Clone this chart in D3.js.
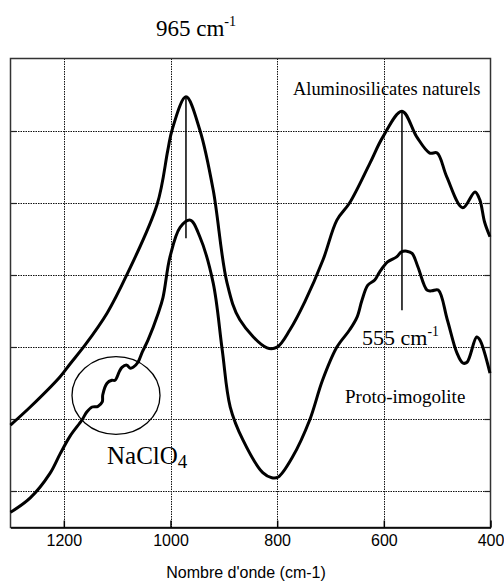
<!DOCTYPE html>
<html><head><meta charset="utf-8">
<script src="https://cdn.jsdelivr.net/npm/d3@7"></script>
<style>body{margin:0;background:#fff}svg{display:block}</style>
</head><body><svg id="c" width="504" height="581"></svg>
<script>
// Data: wavenumber (cm-1) and absorbance (arbitrary units, offset)
const alumWave = [1300,1263,1207,1188,1160,1119,1082,1025,1005,997,971,945,920,894,870,819,800,776,748,714,688,664,626,602,566,538,514,500,482,452,429,420,411,401];
const alumAbs  = [1.42,1.67,2.09,2.27,2.53,2.97,3.50,4.48,5.23,5.51,5.97,5.51,4.68,3.39,2.88,2.49,2.50,2.74,3.13,3.71,4.26,4.50,5.05,5.41,5.77,5.41,5.19,5.19,4.86,4.43,4.65,4.54,4.23,4.03];
const protoWave = [1300,1263,1226,1207,1188,1166,1157,1147,1136,1128,1127,1119,1110,1104,1096,1091,1082,1076,1070,1061,1053,1042,1023,1014,1001,982,963,945,920,903,888,864,827,810,798,771,739,715,688,664,650,641,630,617,608,593,576,567,557,547,536,519,510,498,481,463,452,444,426,420,401];
const protoAbs  = [0.21,0.41,0.75,1.02,1.27,1.49,1.60,1.67,1.68,1.74,1.84,2.00,2.04,2.04,2.16,2.22,2.25,2.21,2.22,2.29,2.43,2.60,2.97,3.19,3.75,4.16,4.26,4.03,3.39,2.46,1.67,1.21,0.76,0.69,0.70,0.98,1.49,2.04,2.50,2.74,2.92,3.15,3.36,3.43,3.54,3.68,3.75,3.82,3.83,3.80,3.61,3.29,3.28,3.29,2.88,2.42,2.28,2.29,2.64,2.60,2.14];
const xTicks = [1200,1000,800,600,400];
const yGrid = [0.5,1.5,2.5,3.5,4.5,5.5];
const markerWave = [971,566];
const markerTop = [5.97,5.77];
const markerBottom = [4.01,3.01];
const xDomain = [1300,400];
const yDomain = [0,6.5];

const svg = d3.select("#c");
const L=10.5, R=490.5, T=58.5, B=527.5;
const x = d3.scaleLinear().domain(xDomain).range([L,R]);
const y = d3.scaleLinear().domain(yDomain).range([B,T]);

// gridlines
const g = svg.append("g");
g.selectAll(".vg").data(xTicks.filter(d=>d!==400)).enter().append("line")
 .attr("x1",d=>Math.round(x(d))+0.5).attr("x2",d=>Math.round(x(d))+0.5).attr("y1",T).attr("y2",B)
 .attr("stroke","#111").attr("stroke-width",1).attr("stroke-dasharray","1.5,1");
g.selectAll(".hg").data(yGrid).enter().append("line")
 .attr("x1",L).attr("x2",R).attr("y1",d=>Math.round(y(d))+0.5).attr("y2",d=>Math.round(y(d))+0.5)
 .attr("stroke","#111").attr("stroke-width",1).attr("stroke-dasharray","1.5,1");

// inward ticks on left and right
g.selectAll(".lt").data(yGrid).enter().append("line")
 .attr("x1",L).attr("x2",L+6).attr("y1",d=>Math.round(y(d))+0.5).attr("y2",d=>Math.round(y(d))+0.5)
 .attr("stroke","#222").attr("stroke-width",1.2);
g.selectAll(".rt").data(yGrid).enter().append("line")
 .attr("x1",R-6).attr("x2",R).attr("y1",d=>Math.round(y(d))+0.5).attr("y2",d=>Math.round(y(d))+0.5)
 .attr("stroke","#222").attr("stroke-width",1.2);

// frame
svg.append("rect").attr("x",L).attr("y",T).attr("width",R-L).attr("height",B-T)
 .attr("fill","none").attr("stroke","#333").attr("stroke-width",1.5);

// bottom axis
const xAxis = d3.axisBottom(x).tickValues(xTicks).tickFormat(d3.format("d")).tickSizeInner(-7).tickSizeOuter(0).tickPadding(7);
const ax = svg.append("g").attr("transform",`translate(0,${B})`).call(xAxis);
ax.select(".domain").attr("stroke","#000").attr("stroke-width",1.5);
ax.selectAll(".tick line").attr("stroke","#000").attr("stroke-width",1.5);
ax.selectAll("text").attr("font-family","Liberation Sans, Arial, sans-serif").attr("font-size",16).attr("fill","#000");

svg.append("text").attr("x",246).attr("y",578).attr("text-anchor","middle")
 .attr("font-family","Liberation Sans, Arial, sans-serif").attr("font-size",16).text("Nombre d'onde (cm-1)");

// curves
const line = d3.line().x(d=>x(d[0])).y(d=>y(d[1])).curve(d3.curveCatmullRom.alpha(0.5));
svg.append("path").datum(d3.zip(alumWave,alumAbs)).attr("d",line)
 .attr("fill","none").attr("stroke","#000").attr("stroke-width",3).attr("stroke-linejoin","round");
svg.append("path").datum(d3.zip(protoWave,protoAbs)).attr("d",line)
 .attr("fill","none").attr("stroke","#000").attr("stroke-width",3).attr("stroke-linejoin","round");

// marker lines
svg.selectAll(".mk").data(markerWave).enter().append("line")
 .attr("x1",d=>x(d)).attr("x2",d=>x(d)).attr("y1",(d,i)=>y(markerTop[i])).attr("y2",(d,i)=>y(markerBottom[i]))
 .attr("stroke","#000").attr("stroke-width",1.5);

// ellipse
svg.append("ellipse").attr("cx",116).attr("cy",395.5).attr("rx",44).attr("ry",38.8)
 .attr("fill","none").attr("stroke","#000").attr("stroke-width",1.3);

const serif = "Liberation Serif, Times New Roman, serif";
function sup(xp, yp, base, s, fs){
  const t = svg.append("text").attr("x",xp).attr("y",yp).attr("font-family",serif).attr("font-size",fs);
  t.append("tspan").text(base);
  t.append("tspan").attr("dy",-fs*0.42).attr("font-size",fs*0.62).text(s);
}
sup(156,36,"965 cm","-1",23);
sup(362,345,"555 cm","-1",22);
svg.append("text").attr("x",293).attr("y",95).attr("font-family",serif).attr("font-size",18.4).text("Aluminosilicates naturels");
svg.append("text").attr("x",345).attr("y",403).attr("font-family",serif).attr("font-size",19).text("Proto-imogolite");
const na = svg.append("text").attr("x",107).attr("y",464).attr("font-family",serif).attr("font-size",25);
na.append("tspan").text("NaClO");
na.append("tspan").attr("font-size",19).attr("dy",4).text("4");
</script></body></html>
